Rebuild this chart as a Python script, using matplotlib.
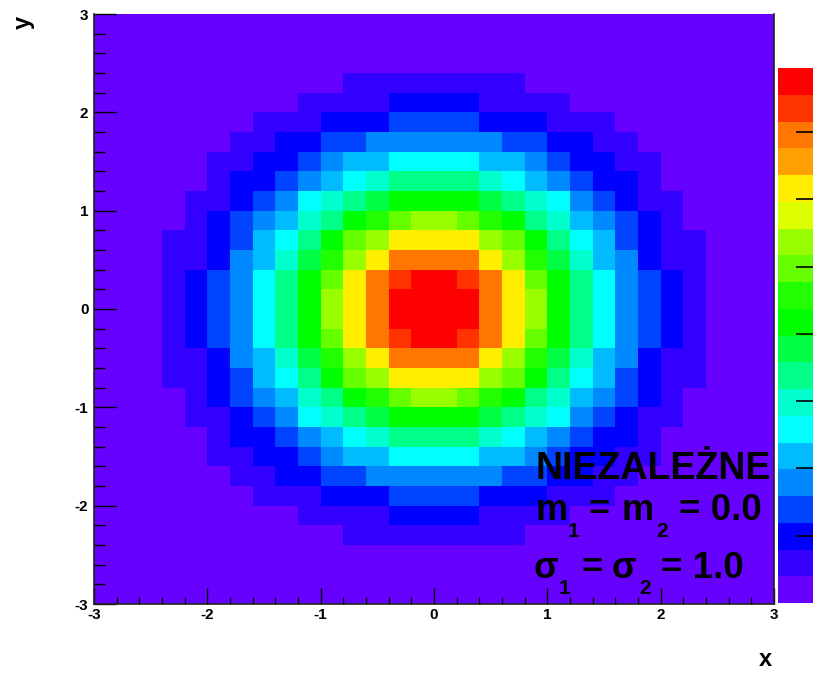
import numpy as np
import matplotlib.pyplot as plt
from matplotlib.colors import ListedColormap, BoundaryNorm
from matplotlib.ticker import MultipleLocator

plt.rcParams['font.family'] = ['Liberation Sans', 'DejaVu Sans']
plt.rcParams['axes.unicode_minus'] = False

# histogram 30x30 bins on [-3,3]x[-3,3], rows from top (y=3) to bottom (y=-3)
# values = palette level (0..19)
levels = [
    [0,0,0,0,0,0,0,0,0,0,0,0,0,0,0,0,0,0,0,0,0,0,0,0,0,0,0,0,0,0],
    [0,0,0,0,0,0,0,0,0,0,0,0,0,0,0,0,0,0,0,0,0,0,0,0,0,0,0,0,0,0],
    [0,0,0,0,0,0,0,0,0,0,0,0,0,0,0,0,0,0,0,0,0,0,0,0,0,0,0,0,0,0],
    [0,0,0,0,0,0,0,0,0,0,0,1,1,1,1,1,1,1,1,0,0,0,0,0,0,0,0,0,0,0],
    [0,0,0,0,0,0,0,0,0,1,1,1,1,2,2,2,2,1,1,1,1,0,0,0,0,0,0,0,0,0],
    [0,0,0,0,0,0,0,1,1,1,2,2,2,3,3,3,3,2,2,2,1,1,1,0,0,0,0,0,0,0],
    [0,0,0,0,0,0,1,1,2,2,3,3,4,4,4,4,4,4,3,3,2,2,1,1,0,0,0,0,0,0],
    [0,0,0,0,0,1,1,2,2,3,4,5,5,6,6,6,6,5,5,4,3,2,2,1,1,0,0,0,0,0],
    [0,0,0,0,0,1,2,2,3,4,5,6,7,8,8,8,8,7,6,5,4,3,2,2,1,0,0,0,0,0],
    [0,0,0,0,1,1,2,3,4,6,7,8,9,10,10,10,10,9,8,7,6,4,3,2,1,1,0,0,0,0],
    [0,0,0,0,1,2,3,4,5,7,8,10,11,12,13,13,12,11,10,8,7,5,4,3,2,1,0,0,0,0],
    [0,0,0,1,1,2,3,5,6,8,10,12,13,15,15,15,15,13,12,10,8,6,5,3,2,1,1,0,0,0],
    [0,0,0,1,1,2,4,5,7,9,11,13,15,17,17,17,17,15,13,11,9,7,5,4,2,1,1,0,0,0],
    [0,0,0,1,2,3,4,6,8,10,12,15,17,18,19,19,18,17,15,12,10,8,6,4,3,2,1,0,0,0],
    [0,0,0,1,2,3,4,6,8,10,13,15,17,19,19,19,19,17,15,13,10,8,6,4,3,2,1,0,0,0],
    [0,0,0,1,2,3,4,6,8,10,13,15,17,19,19,19,19,17,15,13,10,8,6,4,3,2,1,0,0,0],
    [0,0,0,1,2,3,4,6,8,10,12,15,17,18,19,19,18,17,15,12,10,8,6,4,3,2,1,0,0,0],
    [0,0,0,1,1,2,4,5,7,9,11,13,15,17,17,17,17,15,13,11,9,7,5,4,2,1,1,0,0,0],
    [0,0,0,1,1,2,3,5,6,8,10,12,13,15,15,15,15,13,12,10,8,6,5,3,2,1,1,0,0,0],
    [0,0,0,0,1,2,3,4,5,7,8,10,11,12,13,13,12,11,10,8,7,5,4,3,2,1,0,0,0,0],
    [0,0,0,0,1,1,2,3,4,6,7,8,9,10,10,10,10,9,8,7,6,4,3,2,1,1,0,0,0,0],
    [0,0,0,0,0,1,2,2,3,4,5,6,7,8,8,8,8,7,6,5,4,3,2,2,1,0,0,0,0,0],
    [0,0,0,0,0,1,1,2,2,3,4,5,5,6,6,6,6,5,5,4,3,2,2,1,1,0,0,0,0,0],
    [0,0,0,0,0,0,1,1,2,2,3,3,4,4,4,4,4,4,3,3,2,2,1,1,0,0,0,0,0,0],
    [0,0,0,0,0,0,0,1,1,1,2,2,2,3,3,3,3,2,2,2,1,1,1,0,0,0,0,0,0,0],
    [0,0,0,0,0,0,0,0,0,1,1,1,1,2,2,2,2,1,1,1,1,0,0,0,0,0,0,0,0,0],
    [0,0,0,0,0,0,0,0,0,0,0,1,1,1,1,1,1,1,1,0,0,0,0,0,0,0,0,0,0,0],
    [0,0,0,0,0,0,0,0,0,0,0,0,0,0,0,0,0,0,0,0,0,0,0,0,0,0,0,0,0,0],
    [0,0,0,0,0,0,0,0,0,0,0,0,0,0,0,0,0,0,0,0,0,0,0,0,0,0,0,0,0,0],
    [0,0,0,0,0,0,0,0,0,0,0,0,0,0,0,0,0,0,0,0,0,0,0,0,0,0,0,0,0,0],
]
zmax = 0.159  # top of colour scale (1/2pi)
n_contours = 20
z_ticks = [0.02, 0.04, 0.06, 0.08, 0.10, 0.12, 0.14]
palette = ['#6600FF', '#3300FF', '#0000FF', '#0044FF', '#0088FF', '#00BBFF',
           '#00FFFF', '#00FFCC', '#00FF88', '#00FF44', '#00FF00', '#22FF00',
           '#66FF00', '#99FF00', '#DDFF00', '#FFEE00', '#FFA000', '#FF7700',
           '#FF3300', '#FF0000']
x_ticks = [-3, -2, -1, 0, 1, 2, 3]
y_ticks = [-3, -2, -1, 0, 1, 2, 3]

z = (np.array(levels) + 0.5) * zmax / n_contours
x_edges = np.linspace(-3, 3, z.shape[1] + 1)
y_edges = np.linspace(3, -3, z.shape[0] + 1)

cmap = ListedColormap(palette)
norm = BoundaryNorm(np.linspace(0, zmax, n_contours + 1), cmap.N)

W, H = 813, 673
fig = plt.figure(figsize=(W/100, H/100), dpi=100)
ax = fig.add_axes([94/W, 69/H, 680/W, 590/H])
mesh = ax.pcolormesh(x_edges, y_edges, z, cmap=cmap, norm=norm)
ax.set_xlim(-3, 3)
ax.set_ylim(-3, 3)
ax.set_xticks(x_ticks)
ax.set_yticks(y_ticks)
ax.xaxis.set_minor_locator(MultipleLocator(0.2))
ax.yaxis.set_minor_locator(MultipleLocator(0.2))
ax.tick_params(axis='x', which='major', direction='in', length=11.5, width=1, pad=3)
ax.tick_params(axis='x', which='minor', direction='in', length=5, width=1)
ax.tick_params(axis='y', which='major', direction='in', length=16, width=1, pad=4)
ax.tick_params(axis='y', which='minor', direction='in', length=8, width=1)
for lab in ax.get_xticklabels() + ax.get_yticklabels():
    lab.set_fontsize(11)
    lab.set_fontweight('bold')
ax.spines['top'].set_visible(False)
for s in ['left', 'bottom', 'right']:
    ax.spines[s].set_linewidth(1.2)
    ax.spines[s].set_color('#222222')

fig.text(772/W, 1 - 660/H, 'x', ha='right', va='center', fontsize=17, fontweight='bold')
fig.text(23/W, 1 - 22/H, 'y', rotation=90, ha='center', va='center', fontsize=17, fontweight='bold')

# legend text, TLatex-like: (text, left px, baseline px, size)
label_pieces = [
    ('NIEZALEŻNE', 535, 479, 27),
    ('m', 535, 520, 26), ('1', 568, 537, 15), ('=', 589, 520, 26),
    ('m', 622, 520, 26), ('2', 656, 537, 15), ('= 0.0', 679, 520, 26.5),
    ('σ', 534, 578, 26), ('1', 559, 594, 15), ('=', 581, 578, 26),
    ('σ', 612, 578, 26), ('2', 639, 594, 15), ('= 1.0', 661, 578, 26.5),
]
for txt, px, py, size in label_pieces:
    fig.text(px/W, 1 - py/H, txt, fontsize=size, fontweight='bold',
             ha='left', va='baseline')

cax = fig.add_axes([778/W, 70/H, 60/W, 535/H])
cb = fig.colorbar(mesh, cax=cax, ticks=z_ticks)
cb.outline.set_visible(False)
cax.tick_params(direction='in', length=30, width=1.2, right=True, labelright=False)

fig.savefig('out.png', dpi=100)
